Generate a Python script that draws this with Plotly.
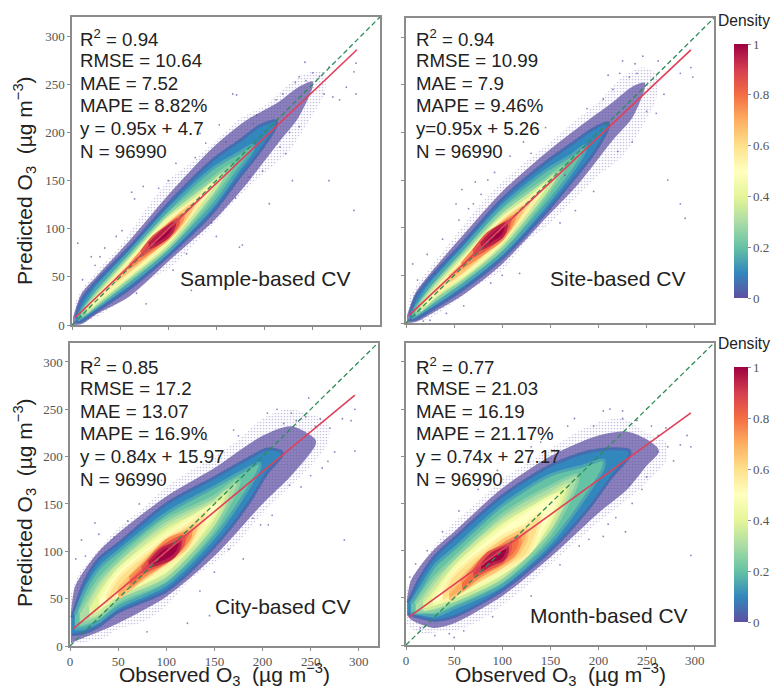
import plotly.graph_objects as go

W, H = 771, 688
TICKS = [0, 50, 100, 150, 200, 250, 300]
LEVEL_COLORS = ["#5e4fa2", "#3288bd", "#66c2a5", "#abdda4", "#e6f598", "#ffffbf",
                "#fee08b", "#fdae61", "#f46d43", "#d53e4f", "#9e0142"]
EDGE_COLORS = ["#5e4fa2", "#486cb0", "#4ca5b1", "#89d0a5", "#c8e99e", "#f3fbac",
               "#fff0a5", "#fec776", "#f98e52", "#e55649", "#b92049"]
CBAR_STOPS = [0, .1, .2, .3, .4, .5, .6, .7, .8, .9, 1]
CBAR_TICKS = [0, .2, .4, .6, .8, 1]
CBAR_LABELS = ["0", "0.2", "0.4", "0.6", "0.8", "1"]

PANEL_NAMES = ["Sample-based CV", "Site-based CV", "City-based CV", "Month-based CV"]
STATS_SAMPLE = ["R<sup>2</sup> = 0.94", "RMSE = 10.64", "MAE = 7.52", "MAPE = 8.82%", "y = 0.95x + 4.7", "N = 96990"]
STATS_SITE = ["R<sup>2</sup> = 0.94", "RMSE = 10.99", "MAE = 7.9", "MAPE = 9.46%", "y=0.95x + 5.26", "N = 96990"]
STATS_CITY = ["R<sup>2</sup> = 0.85", "RMSE = 17.2", "MAE = 13.07", "MAPE = 16.9%", "y = 0.84x + 15.97", "N = 96990"]
STATS_MONTH = ["R<sup>2</sup> = 0.77", "RMSE = 21.03", "MAE = 16.19", "MAPE = 21.17%", "y = 0.74x + 27.17", "N = 96990"]

# Regression line ends, observed / predicted
FIT_OBS = [3, 296]
FIT_SAMPLE = [7.5, 286]
FIT_SITE = [8, 286.5]
FIT_CITY = [18, 265]
FIT_MONTH = [29.5, 246]

# Density outlines, one list per density level (0 to 1 in 0.1 steps)
S_OBS = [[1,10,25,60,100,147,180,215,235,250],[4,10,25,60,100,147,175,195,212],[6,25,60,100,147,172,188],
         [10,25,60,100,147,165],[15,25,60,100,147,155],[20,30,60,100,130,145],[30,60,100,125,138],[45,60,90,110,125],
         [60,80,100,115],[72,85,100,110],[80,90,100,106]]
S_HI = [[8,33,50,88,135,185,212,232,247,253],[8,26,45,81,126,172,192,207,212],[9,38,76,120,163,178,187],
        [13,33,72,115,153,166],[18,30,69,112,149,156],[22,33,67,110,132,146],[33,64,107,128,138],[47,62,95,113,125],
        [62,85,104,115],[76,92,103,110],[84,94,102,106]]
S_LO = [[0,1,11,30,66,108,145,190,215,247],[3,4,14,38,72,118,155,180,207],[5,18,43,76,125,160,182],
        [9,20,47,80,135,162],[13,22,50,83,139,152],[19,28,52,86,124,144],[30,55,88,116,136],[45,57,82,100,122],
        [60,75,90,110],[72,81,92,105],[80,85,92,102]]
S_HALO_OBS = [3,10,25,50,75,100,125,150,175,200,225,245,262]
S_HALO_HI = [24,36,55,82,118,150,170,192,215,228,250,262,262]
S_HALO_LO = [1,2,8,25,45,58,82,108,135,158,180,210,240]

T_OBS = [[1,10,25,60,100,147,180,215,235,248],[4,10,25,60,100,147,175,195,210],[6,25,60,100,147,172,186],
         [10,25,60,100,147,163],[15,30,60,100,147,154],[20,35,60,100,130,144],[30,60,100,125,136],[45,60,90,108,122],
         [58,80,100,112],[70,85,100,107],[78,90,100,104]]
T_HI = [[8,32,52,93,138,180,206,232,248,252],[8,27,47,85,130,170,190,204,210],[10,40,79,123,161,176,186],
        [14,35,74,117,152,164],[19,38,71,113,149,155],[23,40,68,110,132,145],[34,65,107,128,136],[49,63,97,112,122],
        [62,87,104,112],[76,94,103,107],[83,96,103,104]]
T_LO = [[0,1,9,30,62,112,147,192,215,246],[3,4,13,36,68,118,152,178,205],[5,17,41,73,126,158,181],
        [9,20,45,78,136,160],[13,27,48,82,140,151],[19,33,50,85,124,143],[29,53,87,116,134],[44,55,81,98,120],
        [58,73,88,108],[70,79,91,103],[78,84,91,100]]
T_HALO_OBS = [2,10,25,50,75,100,125,150,175,200,225,245,260]
T_HALO_HI = [24,38,58,90,122,148,170,190,212,232,258,268,262]
T_HALO_LO = [0,1,5,22,40,55,85,105,130,155,175,205,235]

C_OBS = [[1,5,15,30,50,100,150,200,230,255],[2,15,30,50,100,150,185,205,220],[5,15,30,50,100,150,180,197],
         [10,30,50,100,150,175],[20,30,50,100,150,163],[30,50,100,130,155],[38,50,100,125,142],[50,70,100,120,130],
         [62,80,100,118,125],[75,90,105,118],[82,95,108,114]]
C_HI = [[35,62,80,100,119,158,188,222,232,218],[30,68,92,108,150,178,198,208,205],[33,58,82,100,140,168,185,193],
        [36,70,91,133,158,176],[42,60,85,126,152,164],[50,80,119,138,152],[52,72,114,130,142],[60,82,112,122,128],
        [72,90,111,119,120],[82,100,110,116],[88,102,108,111]]
C_LO = [[3,5,9,15,24,52,95,150,180,212],[12,14,21,36,58,105,150,183,201],[18,19,26,41,65,115,158,188],
        [23,30,47,70,124,170],[31,35,51,75,130,158],[40,54,80,112,148],[44,56,84,106,138],[50,66,88,103,122],
        [62,76,89,105,116],[77,84,92,108],[84,88,95,105]]
C_HALO_OBS = [1,10,20,35,50,75,100,125,150,175,200,225,250,268]
C_HALO_HI = [55,78,90,108,124,145,168,185,200,218,240,250,245,235]
C_HALO_LO = [2,3,5,8,18,25,42,70,88,110,140,165,190,215]

M_OBS = [[1,5,15,30,50,100,150,200,230,250,262],[2,15,30,50,100,150,190,215,232],[5,15,30,50,100,150,185,205],
         [10,30,50,100,150,178],[18,30,50,100,150,168],[28,50,100,130,158],[38,50,100,125,140],[45,70,100,115,125],
         [58,80,100,112,118],[70,85,100,108],[78,90,100,105]]
M_HI = [[48,68,84,102,120,166,200,222,226,218,208],[45,72,94,113,158,190,205,208,206],[44,60,84,102,148,180,190,196],
        [44,72,92,138,168,180],[46,62,87,131,160,170],[49,81,125,145,160],[56,75,115,128,140],[56,84,110,118,122],
        [67,92,106,113,114],[78,97,104,107],[84,97,102,104]]
M_LO = [[32,27,22,18,23,52,93,140,165,190,203],[33,29,26,30,58,100,145,180,200],[34,33,31,39,63,108,155,188],
        [35,36,44,68,118,172],[37,40,47,72,124,164],[43,51,76,100,152],[46,53,80,95,132],[48,65,83,95,112],
        [58,75,86,95,106],[72,80,88,100],[79,86,90,98]]
M_HALO_OBS = [1,8,20,35,50,75,100,125,150,175,200,225,250,270]
M_HALO_HI = [60,74,92,112,130,152,176,192,208,224,236,240,225,215]
M_HALO_LO = [22,16,12,14,15,25,42,62,85,108,130,150,172,195]

# Isolated points
S_PX = [6,11,20,29,62,65,74,108,167,171,242,267,293,295,293,295,205,229,177,174,124,77,67,105,119,150,184,216,222,236,257,267,278,271,285,139,153,133,188,212,219,236,243,46,52,34,24,90,100,128,160,192,226,232,250,262,145,170,198]
S_PY = [85,47,71,71,138,131,144,168,240,239,273,150,119,272,263,240,126,150,83,81,36,22,33,57,74,92,154,185,178,206,258,268,234,237,247,189,208,199,209,234,240,258,254,92,98,80,62,142,150,174,190,218,200,252,262,240,106,132,160]
T_PX = [7,12,22,30,58,52,65,72,85,92,165,210,222,246,262,268,285,296,298,290,272,285,260,118,100,88,60,42,18,25,160,176,195,220,235,250,225,238,130,145,205,122,70,78,108,215,232,240,188,150,170,55,38]
T_PY = [62,45,72,52,140,125,120,148,150,158,155,260,262,280,275,240,262,268,258,110,150,125,220,52,50,42,18,10,2,3,105,118,138,180,190,222,275,272,178,205,235,190,125,135,175,245,258,262,225,120,140,108,88]
C_PX = [6,16,30,46,60,72,95,118,130,142,170,205,215,230,248,260,270,283,296,292,296,228,240,262,250,198,210,180,150,135,80,122,145,285,275,268,26,12,140,175,222,235,190,165,206,245,255]
C_PY = [92,95,118,115,132,150,175,195,205,218,228,246,250,246,262,240,230,240,250,238,206,170,168,188,180,128,138,92,78,58,15,24,32,112,205,195,130,112,200,222,235,238,135,102,128,242,232]
M_PX = [4,10,22,38,55,75,95,118,130,150,175,195,212,225,240,255,270,285,296,292,296,262,250,235,218,205,228,278,232,180,160,130,50,45,60,90,30,15,140,168,205,225,262,272,190,245,210]
M_PY = [72,86,100,120,142,165,185,200,210,225,240,232,250,248,238,232,230,212,210,222,95,205,178,150,135,115,120,195,170,105,85,52,8,12,15,30,10,18,215,232,248,240,222,210,112,165,128]

PX = [S_PX, T_PX, C_PX, M_PX]
PY = [S_PY, T_PY, C_PY, M_PY]
OBS = [S_OBS, T_OBS, C_OBS, M_OBS]
HI = [S_HI, T_HI, C_HI, M_HI]
LO = [S_LO, T_LO, C_LO, M_LO]
HALO = [(S_HALO_OBS, S_HALO_HI, S_HALO_LO), (T_HALO_OBS, T_HALO_HI, T_HALO_LO),
        (C_HALO_OBS, C_HALO_HI, C_HALO_LO), (M_HALO_OBS, M_HALO_HI, M_HALO_LO)]
FIT = [FIT_SAMPLE, FIT_SITE, FIT_CITY, FIT_MONTH]
STATS = [STATS_SAMPLE, STATS_SITE, STATS_CITY, STATS_MONTH]

# pixel layout
BOX = [(72, 380, 17, 325), (406, 714, 18, 323), (70, 378, 343, 646), (406, 714, 343, 645)]
STAT_X = [78, 414, 78, 414]
STAT_Y = [37.7, 37.7, 365.7, 365.7]
NAME_XY = [(178, 278), (548, 278), (213, 606), (528, 615)]
FRAME = "#8c8c8c"
TICK_TXT = "#555555"

def px(v): return v / W
def py(v): return 1 - v / H

fig = go.Figure()
ann = []
STAT_FONT = dict(family="Liberation Sans", size=18.7, color="#222")

for i in range(4):
    x0, x1, y0, y1 = BOX[i]
    n = "" if i == 0 else str(i + 1)
    axis = dict(range=[0, 320], tickvals=TICKS, ticks="outside", ticklen=3, tickwidth=1, tickcolor=FRAME,
                showgrid=False, zeroline=False, showline=True, mirror=True, linecolor=FRAME, linewidth=1.5,
                tickfont=dict(family="Liberation Serif", size=13, color=TICK_TXT))
    fig.update_layout({
        "xaxis" + n: dict(axis, domain=[px(x0), px(x1)], anchor="y" + n, showticklabels=i >= 2),
        "yaxis" + n: dict(axis, domain=[py(y1), py(y0)], anchor="x" + n, showticklabels=i in (0, 2)),
    })
    xa, ya = "x" + n, "y" + n
    h_obs, h_hi, h_lo = HALO[i]
    fig.add_trace(go.Scatter(x=h_obs + h_obs[::-1], y=h_lo + h_hi[::-1], mode="lines", fill="toself",
                             fillcolor="rgba(0,0,0,0)",
                             fillpattern=dict(shape=".", size=3, solidity=0.25, fgcolor="#5e4fa2", fgopacity=0.35, bgcolor="rgba(0,0,0,0)"),
                             line=dict(width=0, shape="spline", smoothing=0.8),
                             xaxis=xa, yaxis=ya, showlegend=False, hoverinfo="skip"))
    for lev in range(11):
        obs, hi, lo = OBS[i][lev], HI[i][lev], LO[i][lev]
        fig.add_trace(go.Scatter(x=obs + obs[::-1], y=lo + hi[::-1], mode="lines", fill="toself",
                                 fillcolor=LEVEL_COLORS[lev], opacity=0.72 if lev == 0 else 1,
                                 line=dict(width=0 if lev == 0 else 3, color=EDGE_COLORS[lev], shape="spline", smoothing=0.8),
                                 xaxis=xa, yaxis=ya, showlegend=False, hoverinfo="skip"))
    fig.add_trace(go.Scatter(x=PX[i], y=PY[i], mode="markers", xaxis=xa, yaxis=ya, showlegend=False, hoverinfo="skip",
                             marker=dict(size=1.8, color="#5e4fa2", opacity=0.7)))
    fig.add_trace(go.Scatter(x=[0, 320], y=[0, 320], mode="lines", xaxis=xa, yaxis=ya, showlegend=False,
                             line=dict(color="#2e8b57", width=1.3, dash="5px,3px")))
    fig.add_trace(go.Scatter(x=FIT_OBS, y=FIT[i], mode="lines", xaxis=xa, yaxis=ya, showlegend=False,
                             line=dict(color="#e0405a", width=1.6)))
    for k, t in enumerate(STATS[i]):
        ann.append(dict(x=px(STAT_X[i]), y=py(STAT_Y[i] + k * 22.67), text=t, font=dict(STAT_FONT)))
    ann.append(dict(x=px(NAME_XY[i][0]), y=py(NAME_XY[i][1]), text=PANEL_NAMES[i], font=dict(family="Liberation Sans", size=21, color="#222")))

scale = [[s, c] for s, c in zip(CBAR_STOPS, LEVEL_COLORS)]
for n, top, bot in (("2", 44, 298), ("4", 367, 622)):
    fig.add_trace(go.Scatter(x=[-40, -40], y=[-40, -40], mode="markers", xaxis="x" + n, yaxis="y" + n, showlegend=False, hoverinfo="skip",
                             marker=dict(color=[0, 1], colorscale=scale, cmin=0, cmax=1, size=1, opacity=0,
                                         colorbar=dict(x=px(734), xanchor="left", xpad=0, ypad=0, thickness=14, thicknessmode="pixels",
                                                       len=(bot - top) / H, lenmode="fraction", y=py(top), yanchor="top",
                                                       outlinewidth=0, tickvals=CBAR_TICKS, ticktext=CBAR_LABELS, ticks="outside", ticklen=3,
                                                       tickcolor=FRAME, tickfont=dict(family="Liberation Serif", size=13, color=TICK_TXT)))))
    ann.append(dict(x=px(716), y=py(top - 24), text="Density", font=dict(family="Liberation Sans", size=15.6, color="#222")))

base = dict(xref="paper", yref="paper", xanchor="left", yanchor="middle", showarrow=False)
ann = [{**base, **a} for a in ann]
LABEL_FONT = dict(family="Liberation Sans", size=21, color="#222")
YLAB = "Predicted O<sub>3</sub>  (µg m<sup>−3</sup>)"
XLAB = "Observed O<sub>3</sub>  (µg m<sup>−3</sup>)"
for xc, yc in ((24, 181), (24, 503)):
    ann.append(dict(base, x=px(xc), y=py(yc), text=YLAB, textangle=-90, xanchor="center", font=LABEL_FONT))
for xc, yc in ((224, 674), (560, 674)):
    ann.append(dict(base, x=px(xc), y=py(yc), text=XLAB, xanchor="center", font=LABEL_FONT))

fig.update_layout(width=W, height=H, margin=dict(l=0, r=0, t=0, b=0, autoexpand=False), paper_bgcolor="white", plot_bgcolor="white",
                  showlegend=False, annotations=ann)
fig.write_html("out.html", config={"displayModeBar": False}, post_script="document.body.style.margin='0';")
